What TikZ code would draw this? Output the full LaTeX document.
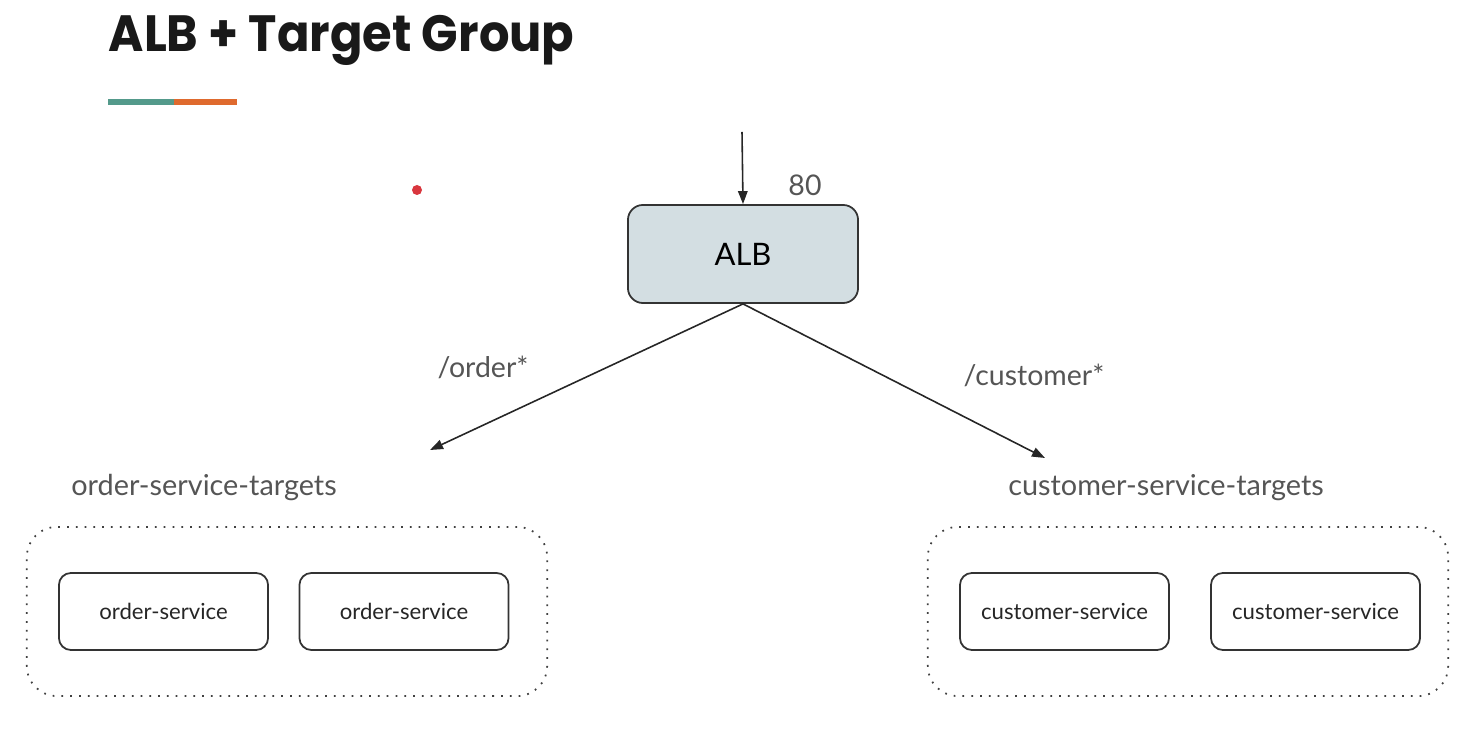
\documentclass[tikz,border=0pt]{standalone}
\usepackage{fontspec}
\setmainfont{Lato}
\newfontfamily\titlefont{Poppins}
\usetikzlibrary{arrows.meta}

\definecolor{albfill}{HTML}{D3DEE2}
\definecolor{labelgray}{HTML}{555555}
\definecolor{barteal}{HTML}{549A8B}
\definecolor{barorange}{HTML}{DF6A2E}
\definecolor{dotred}{HTML}{D9363E}

\begin{document}
\begin{tikzpicture}[x = 0.01cm, y = -0.01cm,
	lbbox/.style = {draw = black!80, fill = albfill, line width = 0.5pt, rounded corners = 0.15cm,
		minimum width = 2.3cm, minimum height = 0.98cm, font = \fontsize{8.8}{10}\selectfont},
	svcbox/.style = {draw = black!80, line width = 0.5pt, rounded corners = 0.12cm,
		minimum width = 2.09cm, minimum height = 0.77cm, text = black!85, font = \fontsize{6.3}{7}\selectfont},
	grpbox/.style = {draw = black!75, dotted, line width = 0.5pt, rounded corners = 0.3cm,
		minimum width = 5.2cm, minimum height = 1.69cm},
	lbl/.style = {text = labelgray, font = \fontsize{8.1}{10}\selectfont},
	conn/.style = {draw = black!85, line width = 0.45pt, -{Triangle[length = 1.3mm, width = 0.95mm]}}]
	\useasboundingbox (0,0) rectangle (1470,731);

	% title and bar
	\node [anchor = base west, inner sep = 0pt, text = black!90] (title) at (108,52)
		{\scalebox{0.94}[1]{\titlefont\bfseries\fontsize{14.5}{16}\selectfont ALB + Target Group}};
	\fill [barteal] (108,99) rectangle (174,105);
	\fill [barorange] (174,99) rectangle (237,105);
	\fill [dotred] (417,190) circle (0.05cm);

	% load balancer
	\node [lbbox] (alb) at (743,254) {ALB};
	\coordinate (in) at (742,132);
	\draw [conn] (in) -- (alb.north);
	\node [lbl] (port) at (805,185) {80};

	% target groups
	\node [grpbox] (og) at (287,611.5) {};
	\node [grpbox] (cg) at (1188,611.5) {};
	\node [lbl, font = \fontsize{8.2}{10}\selectfont] (oglabel) at (204,488) {order-service-targets};
	\node [lbl, font = \fontsize{8.2}{10}\selectfont] (cglabel) at (1166,488) {customer-service-targets};

	\node [svcbox] (os1) at (163.5,611.5) {order-service};
	\node [svcbox] (os2) at (404,611.5) {order-service};
	\node [svcbox] (cs1) at (1064.5,611.5) {customer-service};
	\node [svcbox] (cs2) at (1315.5,611.5) {customer-service};

	% routes
	\coordinate (oend) at (430,450);
	\coordinate (cend) at (1045,458);
	\draw [conn] (alb.south) -- (oend);
	\draw [conn] (alb.south) -- (cend);
	\node [lbl] (orule) at (483,367) {/order*};
	\node [lbl] (crule) at (1034,375) {/customer*};
\end{tikzpicture}
\end{document}
